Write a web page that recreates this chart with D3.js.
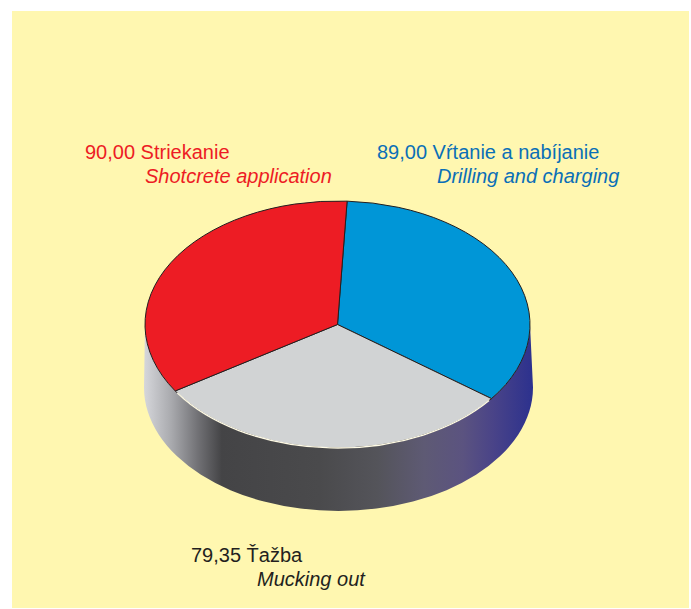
<!DOCTYPE html>
<html>
<head>
<meta charset="utf-8">
<script src="https://cdn.jsdelivr.net/npm/d3@7"></script>
<style>
  html, body { margin: 0; padding: 0; background: #ffffff; }
  svg { display: block; }
</style>
</head>
<body>
<script>
// ---- data ----
const categories = ["Vŕtanie a nabíjanie", "Ťažba", "Striekanie"];
const categoriesEn = ["Drilling and charging", "Mucking out", "Shotcrete application"];
const values = [89.00, 79.35, 90.00];
const valueLabels = ["89,00", "79,35", "90,00"];
const sliceColors = ["#0096d7", "#d1d3d4", "#ed1c24"];
const textColors = ["#0a6fb7", "#231f20", "#ed1c24"];

// ---- layout ----
const W = 691, H = 609;
const cx = 337.5, cy = 324.5, rx = 192.5, ry = 123.5, depth = 63;
const labelPos = [
  { x: 377, y: 159, x2: 437, y2: 183 },
  { x: 191, y: 562, x2: 257, y2: 586 },
  { x: 85,  y: 159, x2: 145, y2: 183 }
];

const svg = d3.select("body").append("svg").attr("width", W).attr("height", H);
svg.append("rect").attr("x", 12).attr("y", 11).attr("width", 677).attr("height", 597).attr("fill", "#fff7b0");

const defs = svg.append("defs");
const grad = defs.append("linearGradient").attr("id", "side")
  .attr("gradientUnits", "userSpaceOnUse")
  .attr("x1", cx - rx - 1).attr("x2", cx + rx + 3).attr("y1", 0).attr("y2", 0);
[[0, "#d6d7db"], [0.07, "#a9aaae"], [0.14, "#707074"], [0.2, "#444446"], [0.45, "#4a4a4c"],
 [0.6, "#54545a"], [0.72, "#5e5a74"], [0.82, "#5b5380"], [0.9, "#494388"], [1, "#2c318e"]]
  .forEach(([o, c]) => grad.append("stop").attr("offset", o).attr("stop-color", c));

// side wall (front half of the cylinder)
const side = `M${cx + rx},${cy} A${rx},${ry} 0 0 1 ${cx - rx},${cy} L${cx - rx - 1},${cy + depth} A${rx + 2},${ry} 0 0 0 ${cx + rx + 3},${cy + depth} Z`;
svg.append("path").attr("d", side).attr("fill", "url(#side)");

// top slices
const startA = 0.05;
const pie = d3.pie().sort(null).value(d => d).startAngle(startA).endAngle(startA + 2 * Math.PI);
const arcs = pie(values);
const arc = d3.arc().innerRadius(0).outerRadius(rx);
const topG = svg.append("g").attr("transform", `translate(${cx},${cy}) scale(1,${ry / rx})`);
topG.selectAll("path.slice").data(arcs).join("path")
  .attr("class", "slice")
  .attr("d", arc)
  .attr("fill", (d, i) => sliceColors[i])
  .attr("stroke", "#231f20")
  .attr("stroke-width", 1)
  .attr("stroke-linejoin", "round")
  .attr("vector-effect", "non-scaling-stroke");

// light highlight on the front rim of the grey slice
const rim = d3.arc().innerRadius(rx).outerRadius(rx);
topG.append("path")
  .attr("d", rim({ startAngle: arcs[1].startAngle + 0.02, endAngle: arcs[1].endAngle - 0.02 }))
  .attr("fill", "none").attr("stroke", "#fffbe6").attr("stroke-width", 1.3)
  .attr("vector-effect", "non-scaling-stroke");

// labels
const font = "'Liberation Sans', Arial, Helvetica, sans-serif";
labelPos.forEach((p, i) => {
  svg.append("text").attr("x", p.x).attr("y", p.y)
    .attr("font-family", font).attr("font-size", 20).attr("fill", textColors[i])
    .text(valueLabels[i] + " " + categories[i]);
  svg.append("text").attr("x", p.x2).attr("y", p.y2)
    .attr("font-family", font).attr("font-size", 20).attr("font-style", "italic").attr("fill", textColors[i])
    .text(categoriesEn[i]);
});
</script>
</body>
</html>
